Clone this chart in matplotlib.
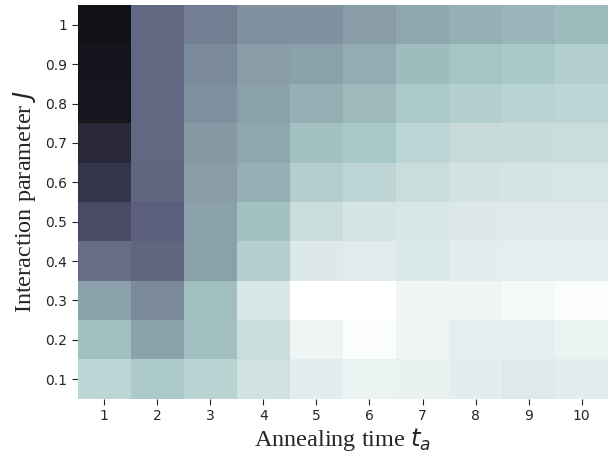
import numpy as np
import matplotlib
matplotlib.use("Agg")
import matplotlib.pyplot as plt
import seaborn as sns

# annealing times (columns) and interaction parameters (rows, bottom -> top)
anneal_times = [1, 2, 3, 4, 5, 6, 7, 8, 9, 10]
J_values = [0.1, 0.2, 0.3, 0.4, 0.5, 0.6, 0.7, 0.8, 0.9, 1.0]
J_labels = ["0.1", "0.2", "0.3", "0.4", "0.5", "0.6", "0.7", "0.8", "0.9", "1"]

# cell values, one list per J
row_01 = [0.81, 0.76, 0.80, 0.865, 0.915, 0.94, 0.935, 0.915, 0.905, 0.915]
row_02 = [0.72, 0.62, 0.72, 0.845, 0.95, 0.985, 0.95, 0.925, 0.925, 0.94]
row_03 = [0.62, 0.55, 0.72, 0.885, 1.0, 1.0, 0.955, 0.955, 0.97, 0.99]
row_04 = [0.46, 0.43, 0.62, 0.785, 0.90, 0.91, 0.895, 0.915, 0.925, 0.925]
row_05 = [0.33, 0.41, 0.62, 0.73, 0.845, 0.875, 0.885, 0.90, 0.905, 0.905]
row_06 = [0.24, 0.43, 0.61, 0.67, 0.78, 0.81, 0.845, 0.87, 0.875, 0.88]
row_07 = [0.18, 0.44, 0.60, 0.64, 0.73, 0.75, 0.81, 0.835, 0.84, 0.845]
row_08 = [0.10, 0.44, 0.57, 0.62, 0.67, 0.70, 0.76, 0.78, 0.80, 0.81]
row_09 = [0.09, 0.44, 0.55, 0.61, 0.62, 0.66, 0.71, 0.74, 0.75, 0.78]
row_10 = [0.08, 0.44, 0.51, 0.57, 0.57, 0.61, 0.64, 0.67, 0.69, 0.71]

Z = np.array([row_01, row_02, row_03, row_04, row_05,
              row_06, row_07, row_08, row_09, row_10])

sns.set_style("ticks")
plt.rcParams["font.family"] = ["DejaVu Sans"]

fig = plt.figure(figsize=(6.13, 4.59), dpi=100)
ax = fig.add_axes([0.127, 0.131, 0.865, 0.858])

ax.pcolormesh(anneal_times, J_values, Z, cmap="bone", vmin=0, vmax=1,
              shading="nearest")

ax.set_xticks(anneal_times)
ax.set_xticklabels([str(t) for t in anneal_times])
ax.set_yticks(J_values)
ax.set_yticklabels(J_labels)
ax.tick_params(labelsize=10, colors="#262626", length=4)

ax.set_xlabel(r"Annealing time $t_a$", family="Liberation Serif", fontsize=17.5,
              labelpad=2)
ax.set_ylabel(r"Interaction parameter $J$", family="Liberation Serif", fontsize=17.5,
              labelpad=5)

for s in ax.spines.values():
    s.set_visible(False)

fig.savefig("out.png", dpi=100)
